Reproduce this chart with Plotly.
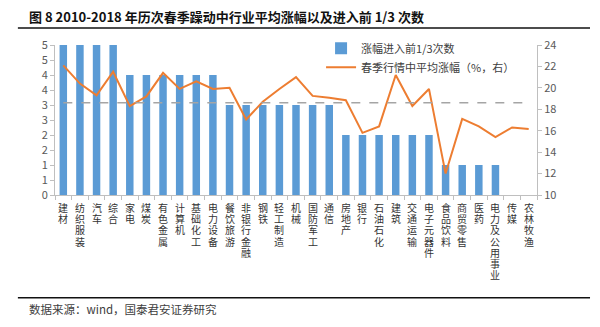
import plotly.graph_objects as go

categories = ["建材", "纺织服装", "汽车", "综合", "家电", "煤炭", "有色金属", "计算机", "基础化工",
              "电力设备", "餐饮旅游", "非银行金融", "钢铁", "轻工制造", "机械", "国防军工", "通信",
              "房地产", "银行", "石油石化", "建筑", "交通运输", "电子元器件", "食品饮料", "商贸零售",
              "医药", "电力及公用事业", "传媒", "农林牧渔"]
top_third_counts = [5, 5, 5, 5, 4, 4, 4, 4, 4, 4, 3, 3, 3, 3, 3, 3, 3,
                    2, 2, 2, 2, 2, 2, 1, 1, 1, 1, 0, 0]
avg_gain = [22.1, 20.4, 19.3, 21.5, 18.3, 19.2, 21.4, 19.9, 20.6, 19.9, 20.0, 17.05, 18.7,
            19.9, 21.0, 19.25, 19.07, 18.85, 15.8, 16.4, 21.2, 18.3, 19.9, 12.0, 17.1,
            16.4, 15.4, 16.3, 16.15]
overall_avg = 18.6
left_ticks = [0, 0.5, 1, 1.5, 2, 2.5, 3, 3.5, 4, 4.5, 5]
left_ticktext = ["0", "1", "1", "2", "2", "3", "3", "4", "4", "5", "5"]
right_ticks = [10, 12, 14, 16, 18, 20, 22, 24]

title_text = "图 8 2010-2018 年历次春季躁动中行业平均涨幅以及进入前 1/3 次数"
source_text = "数据来源：wind，国泰君安证券研究"

FONT = "Noto Sans CJK SC"
BLUE = "#5B9BD5"
ORANGE = "#ED7D31"

PLOT_H = 150.0  # plot area height in px (327 - top 45 - bottom 132)

fig = go.Figure()
fig.add_trace(go.Bar(x=categories, y=top_third_counts, name="涨幅进入前1/3次数",
                     marker=dict(color=BLUE, line=dict(width=0)), width=0.45))
fig.add_trace(go.Scatter(x=categories, y=avg_gain, name="春季行情中平均涨幅（%，右）",
                         mode="lines", line=dict(color=ORANGE, width=2), yaxis="y2"))
fig.add_trace(go.Scatter(x=categories, y=[overall_avg] * len(categories), mode="lines",
                         line=dict(color="#A5A5A5", width=1.5, dash="dash"), yaxis="y2",
                         showlegend=False))

fig.update_layout(
    width=600, height=327,
    margin=dict(l=55, r=63, t=45, b=132),
    paper_bgcolor="white", plot_bgcolor="white",
    font=dict(family=FONT, size=11, color="#404040"),
    showlegend=True,
    legend=dict(x=0.552, y=1.075, xanchor="left", yanchor="top", bgcolor="rgba(0,0,0,0)",
                font=dict(size=11, color="#404040"), tracegroupgap=0, itemwidth=30),
    xaxis=dict(tickmode="array", tickvals=categories, showticklabels=False,
               showline=True, linecolor="#BFBFBF", linewidth=1, ticks="outside",
               tickson="boundaries", ticklen=4, tickcolor="#BFBFBF",
               showgrid=False, range=[-0.5, 28.5]),
    yaxis=dict(range=[0, 5], tickvals=left_ticks, ticktext=left_ticktext, showgrid=False,
               showline=True, linecolor="#BFBFBF", ticks="outside", ticklen=4,
               tickcolor="#BFBFBF", tickfont=dict(size=11, color="#595959"), zeroline=False),
    yaxis2=dict(range=[10, 24], tickvals=right_ticks, overlaying="y", side="right",
                showgrid=False, showline=True, linecolor="#BFBFBF", ticks="outside",
                ticklen=4, tickcolor="#BFBFBF", tickfont=dict(size=11, color="#595959"),
                zeroline=False),
    bargap=0.5,
)

# vertical (stacked, upright) category labels, one character per line
CHAR_STEP = 11.2
FIRST_CENTER = 12.5
for cat in categories:
    for j, ch in enumerate(cat):
        fig.add_annotation(text=ch, xref="x", yref="paper", x=cat,
                           y=-(FIRST_CENTER + CHAR_STEP * j) / PLOT_H,
                           xanchor="center", yanchor="middle", showarrow=False,
                           font=dict(family=FONT, size=10, color="#333333"))

fig.add_annotation(text="<b>" + title_text + "</b>", xref="paper", yref="paper",
                   x=-0.058, y=1.193, xanchor="left", yanchor="middle", showarrow=False,
                   font=dict(family=FONT, size=13, color="#111111"))
fig.add_annotation(text=source_text, xref="paper", yref="paper",
                   x=-0.058, y=-0.76, xanchor="left", yanchor="middle", showarrow=False,
                   font=dict(family=FONT, size=11.5, color="#404040"))
fig.add_shape(type="line", xref="paper", yref="paper", x0=-0.077, x1=1.11, y0=1.113, y1=1.113,
              line=dict(color="#111111", width=1.5))
fig.add_shape(type="line", xref="paper", yref="paper", x0=-0.077, x1=1.11, y0=-0.685, y1=-0.685,
              line=dict(color="#111111", width=1.5))

fig.write_html("out.html")
